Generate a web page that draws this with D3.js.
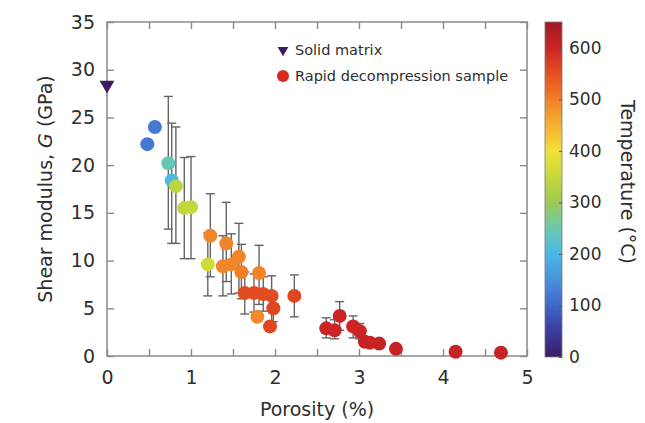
<!DOCTYPE html>
<html>
<head>
<meta charset="utf-8">
<script src="https://cdn.jsdelivr.net/npm/d3@7"></script>
<style>
  body { margin: 0; background: #ffffff; }
  text { font-family: "DejaVu Sans", sans-serif; fill: #2e2e2e; }
</style>
</head>
<body>
<div id="chart"></div>
<script>
// rapid decompression samples
const porosity = [0.48, 0.57, 0.73, 0.77, 0.82, 0.92, 1.00, 1.23, 1.20, 1.42, 1.38, 1.48, 1.57, 1.60, 1.81,
    1.64, 1.75, 1.86, 1.96, 1.98, 1.79, 1.94, 2.23, 2.61, 2.71, 2.77, 2.93, 3.01, 3.07, 3.13, 3.24, 3.44, 4.15, 4.69];
const shearModulus = [22.2, 24.0, 20.2, 18.4, 17.8, 15.5, 15.6, 12.6, 9.6, 11.8, 9.4, 9.6, 10.4, 8.8, 8.7,
    6.6, 6.6, 6.5, 6.3, 5.0, 4.1, 3.1, 6.3, 2.9, 2.7, 4.2, 3.1, 2.6, 1.5, 1.4, 1.3, 0.75, 0.45, 0.35];
const temperature = [120, 120, 245, 205, 335, 340, 345, 495, 360, 495, 495, 495, 495, 500, 495,
    555, 555, 555, 555, 560, 490, 560, 560, 600, 600, 600, 600, 600, 605, 605, 605, 605, 605, 605];
const errLow = [null, null, 13.3, 11.8, 11.8, 10.2, 10.2, 8.3, 6.3, 7.8, 6.3, 6.5, 6.6, 6.0, 5.4,
    4.4, 4.6, 4.7, 3.6, 3.6, null, null, 4.1, 1.9, 1.8, 2.7, 1.9, 1.8, null, null, null, null, null, null];
const errHigh = [null, null, 27.2, 24.4, 24.0, 20.8, 20.9, 17.0, 12.9, 16.1, 12.6, 12.8, 13.9, 11.7, 11.6,
    8.8, 8.6, 8.3, 8.4, 6.4, null, null, 8.5, 4.0, 3.8, 5.7, 4.2, 3.4, null, null, null, null, null, null];

// solid matrix
const solidPorosity = [0];
const solidModulus = [28.4];

// colour bar
const tempStops = [0, 50, 100, 150, 200, 250, 300, 350, 400, 450, 500, 550, 600, 650];
const tempColors = ["#3b1d66", "#3c3b9e", "#3f69c8", "#4a90dc", "#4ab8e4", "#6cc8b0", "#9cca52",
    "#c8d83a", "#f0e03a", "#f5b030", "#f08028", "#e45020", "#cc2424", "#9c1c24"];
const tempTicks = [0, 100, 200, 300, 400, 500, 600];

const xTicks = d3.range(0, 5.01, 0.5);
const yTicks = d3.range(0, 35.01, 5);

const width = 645, height = 423;
const plot = { left: 107, right: 527, top: 22, bottom: 356 };
const bar = { left: 545, right: 562, top: 22, bottom: 357 };

const svg = d3.select("#chart")
    .append("svg")
    .attr("width", width)
    .attr("height", height);

const x = d3.scaleLinear().domain([0, 5]).range([plot.left, plot.right]);
const y = d3.scaleLinear().domain([0, 35]).range([plot.bottom, plot.top]);
const color = d3.scaleLinear().domain(tempStops).range(tempColors);
const tScale = d3.scaleLinear().domain([0, 650]).range([bar.bottom, bar.top]);

//axes, ticks pointing inside
const fmtX = d => Number.isInteger(d) ? d : "";
const axisStyle = g => {
    g.select(".domain").remove();
    g.selectAll(".tick line").attr("stroke", "#8a8a8a").attr("stroke-width", 1.4);
    g.selectAll("text").attr("font-size", 19).attr("fill", "#2e2e2e");
};

svg.append("g")
    .attr("transform", `translate(0,${plot.bottom})`)
    .call(d3.axisBottom(x).tickValues(xTicks).tickFormat(fmtX).tickSizeInner(-7).tickSizeOuter(0).tickPadding(15))
    .call(axisStyle);

svg.append("g")
    .attr("transform", `translate(0,${plot.top})`)
    .call(d3.axisTop(x).tickValues(xTicks).tickFormat("").tickSizeInner(-7).tickSizeOuter(0))
    .call(axisStyle);

svg.append("g")
    .attr("transform", `translate(${plot.left},0)`)
    .call(d3.axisLeft(y).tickValues(yTicks).tickSizeInner(-7).tickSizeOuter(0).tickPadding(12))
    .call(axisStyle);

svg.append("g")
    .attr("transform", `translate(${plot.right},0)`)
    .call(d3.axisRight(y).tickValues(yTicks).tickFormat("").tickSizeInner(-7).tickSizeOuter(0))
    .call(axisStyle);

// frame
svg.append("rect")
    .attr("x", plot.left)
    .attr("y", plot.top)
    .attr("width", plot.right - plot.left)
    .attr("height", plot.bottom - plot.top)
    .attr("fill", "none")
    .attr("stroke", "#8a8a8a")
    .attr("stroke-width", 1.5);

// error bars
const idx = d3.range(porosity.length);
const withErr = idx.filter(i => errLow[i] !== null);
const errG = svg.append("g")
    .attr("stroke", "#646464")
    .attr("stroke-width", 1.4);

errG.selectAll("line.bar")
    .data(withErr)
    .join("line")
    .attr("class", "bar")
    .attr("x1", i => x(porosity[i]))
    .attr("x2", i => x(porosity[i]))
    .attr("y1", i => y(errLow[i]))
    .attr("y2", i => y(errHigh[i]));

errG.selectAll("line.capLow")
    .data(withErr)
    .join("line")
    .attr("class", "capLow")
    .attr("x1", i => x(porosity[i]) - 4.5)
    .attr("x2", i => x(porosity[i]) + 4.5)
    .attr("y1", i => y(errLow[i]))
    .attr("y2", i => y(errLow[i]));

errG.selectAll("line.capHigh")
    .data(withErr)
    .join("line")
    .attr("class", "capHigh")
    .attr("x1", i => x(porosity[i]) - 4.5)
    .attr("x2", i => x(porosity[i]) + 4.5)
    .attr("y1", i => y(errHigh[i]))
    .attr("y2", i => y(errHigh[i]));

// sample points
svg.append("g")
    .selectAll("circle")
    .data(idx)
    .join("circle")
    .attr("cx", i => x(porosity[i]))
    .attr("cy", i => y(shearModulus[i]))
    .attr("r", 7)
    .attr("fill", i => color(temperature[i]));

// solid matrix triangle
const tri = d3.symbol().type(d3.symbolTriangle).size(95);
svg.append("g")
    .selectAll("path")
    .data(solidPorosity)
    .join("path")
    .attr("d", tri)
    .attr("transform", (d, i) => `translate(${x(d)},${y(solidModulus[i])}) rotate(180)`)
    .attr("fill", "#3d1c5e");

// legend
const legend = svg.append("g").attr("transform", "translate(283,0)");
legend.append("path")
    .attr("d", d3.symbol().type(d3.symbolTriangle).size(50))
    .attr("transform", "translate(0,50) rotate(180)")
    .attr("fill", "#3d1c5e");
legend.append("text")
    .attr("x", 12)
    .attr("y", 55)
    .attr("font-size", 14.5)
    .text("Solid matrix");
legend.append("circle")
    .attr("cx", 0)
    .attr("cy", 76)
    .attr("r", 6)
    .attr("fill", "#d42a22");
legend.append("text")
    .attr("x", 12)
    .attr("y", 81)
    .attr("font-size", 14.5)
    .text("Rapid decompression sample");

// colour bar
const grad = svg.append("defs")
    .append("linearGradient")
    .attr("id", "tempGrad")
    .attr("x1", 0).attr("y1", 1)
    .attr("x2", 0).attr("y2", 0);
grad.selectAll("stop")
    .data(tempStops)
    .join("stop")
    .attr("offset", d => d / 650)
    .attr("stop-color", (d, i) => tempColors[i]);

svg.append("rect")
    .attr("x", bar.left)
    .attr("y", bar.top)
    .attr("width", bar.right - bar.left)
    .attr("height", bar.bottom - bar.top)
    .attr("fill", "url(#tempGrad)")
    .attr("stroke", "#7a7a7a")
    .attr("stroke-width", 0.8);

svg.append("g")
    .attr("transform", `translate(${bar.right},0)`)
    .call(d3.axisRight(tScale).tickValues(tempTicks).tickSizeInner(-3).tickSizeOuter(0).tickPadding(7))
    .call(g => {
        g.select(".domain").remove();
        g.selectAll(".tick line").attr("stroke", "#555");
        g.selectAll("text").attr("font-size", 17).attr("fill", "#2e2e2e");
    });

// axis titles
svg.append("text")
    .attr("x", (plot.left + plot.right) / 2)
    .attr("y", 416)
    .attr("text-anchor", "middle")
    .attr("font-size", 19)
    .text("Porosity (%)");

const yTitle = svg.append("text")
    .attr("transform", `translate(52,${(plot.top + plot.bottom) / 2}) rotate(-90)`)
    .attr("text-anchor", "middle")
    .attr("font-size", 19);
yTitle.append("tspan").text("Shear modulus, ");
yTitle.append("tspan").attr("font-style", "italic").text("G");
yTitle.append("tspan").text(" (GPa)");

svg.append("text")
    .attr("transform", `translate(621,182) rotate(90)`)
    .attr("text-anchor", "middle")
    .attr("font-size", 19)
    .text("Temperature (°C)");
</script>
</body>
</html>
